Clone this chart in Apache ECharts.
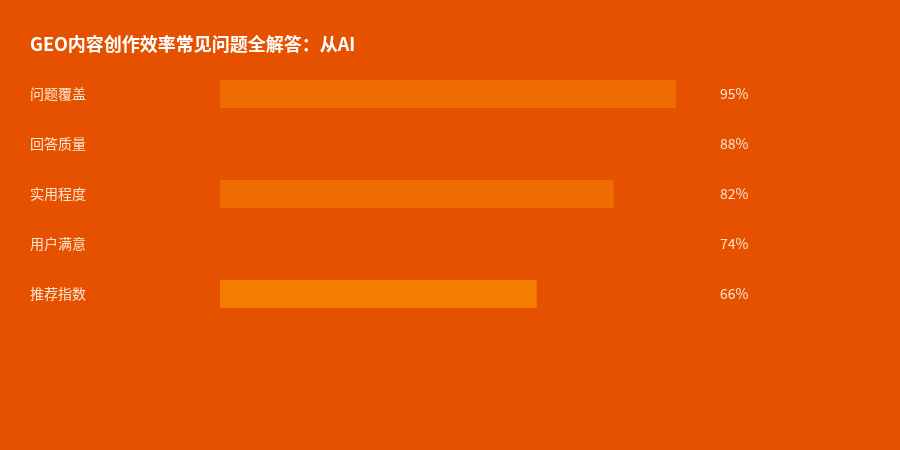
<!DOCTYPE html>
<html>
<head>
<meta charset="utf-8">
<script src="https://cdn.jsdelivr.net/npm/echarts@6/dist/echarts.min.js"></script>
<style>
  html, body { margin: 0; padding: 0; background: #e65100; }
  #main { width: 900px; height: 450px; }
</style>
</head>
<body>
<div id="main"></div>
<script>
// data
var categories = ['问题覆盖', '回答质量', '实用程度', '用户满意', '推荐指数'];
var values = [95, 88, 82, 74, 66];
var barColors = ['#ef6c00', '#e65100', '#ef6c00', '#e65100', '#f57c00'];

var chart = echarts.init(document.getElementById('main'));

var option = {
    backgroundColor: '#e65100',
    title: {
        text: 'GEO内容创作效率常见问题全解答：从AI',
        left: 25,
        top: 30,
        textStyle: {
            color: '#ffffff',
            fontSize: 18,
            fontWeight: 'bold',
            fontFamily: 'Noto Sans CJK SC'
        }
    },
    grid: {
        left: 220,
        right: 200,
        top: 69,
        height: 250
    },
    xAxis: {
        type: 'value',
        min: 0,
        max: 100,
        show: false
    },
    yAxis: [{
        type: 'category',
        data: categories,
        inverse: true,
        axisLine: { show: false },
        axisTick: { show: false },
        splitLine: { show: false },
        axisLabel: {
            align: 'left',
            margin: 190,
            color: '#fde4cc',
            fontSize: 14,
            fontFamily: 'Noto Sans CJK SC'
        }
    }, {
        type: 'category',
        data: categories,
        inverse: true,
        position: 'right',
        axisLine: { show: false },
        axisTick: { show: false },
        splitLine: { show: false },
        axisLabel: {
            align: 'left',
            margin: 20,
            color: '#fde4cc',
            fontSize: 14,
            fontFamily: 'Noto Sans CJK SC',
            formatter: function(v, i) {
                return values[i] + '%';
            }
        }
    }],
    series: [{
        type: 'bar',
        barWidth: 28,
        data: values.map(function(v, i) {
            return { value: v, itemStyle: { color: barColors[i] } };
        })
    }]
};

chart.setOption(option);
</script>
</body>
</html>
